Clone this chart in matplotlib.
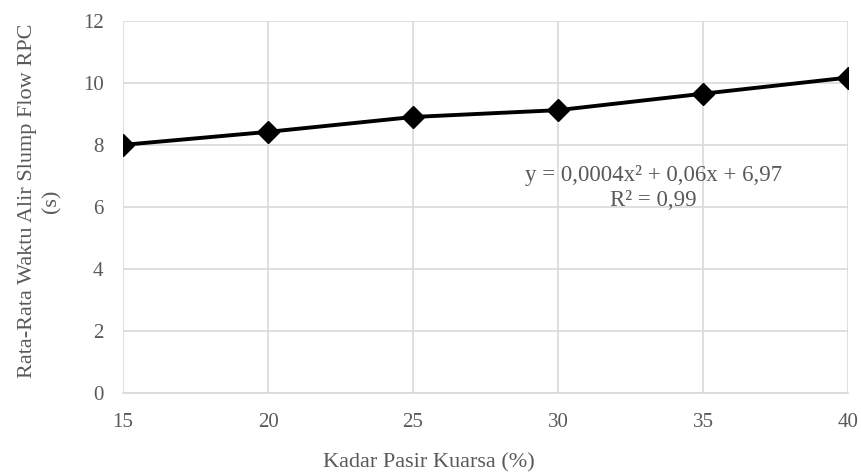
import matplotlib.pyplot as plt

kadar = [15, 20, 25, 30, 35, 40]
waktu = [8.0, 8.42, 8.9, 9.12, 9.65, 10.17]
y_ticks = [0, 2, 4, 6, 8, 10, 12]

plt.rcParams['font.family'] = ['Liberation Serif', 'DejaVu Serif']
grey = '#595959'
grid = '#d9d9d9'

fig = plt.figure(figsize=(8.61, 4.73), dpi=100)
ax = fig.add_axes([0.1429, 0.169, 0.8420, 0.787])

ax.plot(kadar, waktu, color='black', linewidth=2.8, marker='D',
        markersize=11, zorder=3)

ax.set_xlim(15, 40)
ax.set_ylim(0, 12)
ax.set_xticks(kadar)
ax.set_yticks(y_ticks)
ax.grid(True, color=grid, linewidth=1.2)
ax.set_axisbelow(True)
for s in ['top', 'right', 'left']:
    ax.spines[s].set_visible(False)
ax.spines['bottom'].set_color(grid)
ax.spines['bottom'].set_linewidth(1.2)
ax.tick_params(length=0, labelsize=15, colors=grey)
ax.tick_params(axis='x', pad=14)
ax.tick_params(axis='y', pad=14)

ax.set_xlabel('Kadar Pasir Kuarsa (%)', fontsize=16, color=grey, va='center')
ax.xaxis.set_label_coords(0.422, -0.188)
ax.set_ylabel('Rata-Rata Waktu Alir Slump Flow RPC\n(s)', fontsize=16,
              color=grey, linespacing=1.4, va='center')
ax.yaxis.set_label_coords(-0.115, 0.516)

# persamaan trendline
ax.text(33.3, 7.0, 'y = 0,0004x² + 0,06x + 6,97', fontsize=16.5, color=grey,
        ha='center', va='center')
ax.text(33.3, 6.2, 'R² = 0,99', fontsize=16.5, color=grey,
        ha='center', va='center')

fig.savefig('out.png', dpi=100)
